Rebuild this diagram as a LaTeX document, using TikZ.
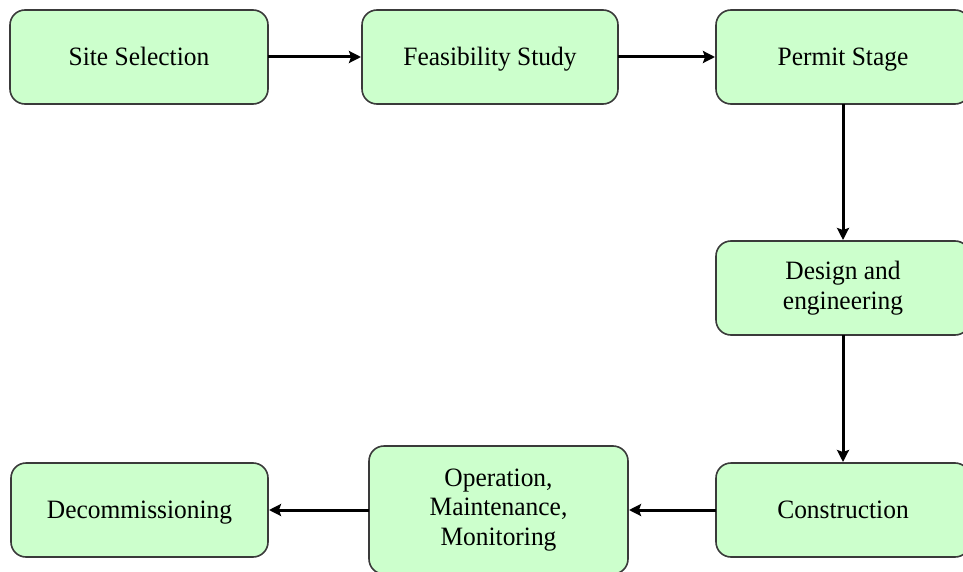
\documentclass[tikz,border=0pt]{standalone}
\usepackage{fontspec}
\setmainfont{Liberation Serif}
\newfontfamily\boxfont[FakeStretch=0.96]{Liberation Serif}
\usetikzlibrary{arrows.meta}
\definecolor{boxfill}{HTML}{CCFFCC}
\definecolor{boxline}{HTML}{3A3A3A}
\begin{document}
\begin{tikzpicture}[x=1pt,y=-1pt,
  stagebox/.style={draw=boxline, line width=1.6pt, fill=boxfill,
    rounded corners=15pt, inner sep=0pt, outer sep=0pt,
    minimum width=256pt, minimum height=94pt,
    align=center, font=\boxfont\fontsize{26.5}{29.5}\selectfont},
  oneline/.style={stagebox, text height=20pt, text depth=3pt},
  flow/.style={line width=3pt, -{Stealth[length=12pt,width=12pt,inset=2pt]}, shorten >=1pt}]
  \useasboundingbox (0,0) rectangle (963,572);
  \clip (0,0) rectangle (963,572);
  % top row
  \node[oneline, minimum width=258pt] (site) at (139,57) {Site Selection};
  \node[oneline] (feas) at (490,57) {Feasibility Study};
  \node[oneline, minimum width=254pt] (permit) at (843,57) {Permit Stage};
  % right column
  \node[stagebox, minimum width=254pt] (design) at (843,288) {Design and\\engineering};
  \node[oneline, minimum width=254pt] (constr) at (843,510) {Construction};
  % bottom row
  \node[stagebox, minimum width=259pt, minimum height=128pt] (oper) at (498.5,510) {Operation,\\Maintenance,\\Monitoring};
  \node[oneline, minimum width=257pt] (decom) at (139.5,510) {Decommissioning};
  % connectors
  \draw[flow] (site) -- (feas);
  \draw[flow] (feas) -- (permit);
  \draw[flow] (permit) -- (design);
  \draw[flow] (design) -- (constr);
  \draw[flow] (constr) -- (oper);
  \draw[flow] (oper) -- (decom);
\end{tikzpicture}
\end{document}
